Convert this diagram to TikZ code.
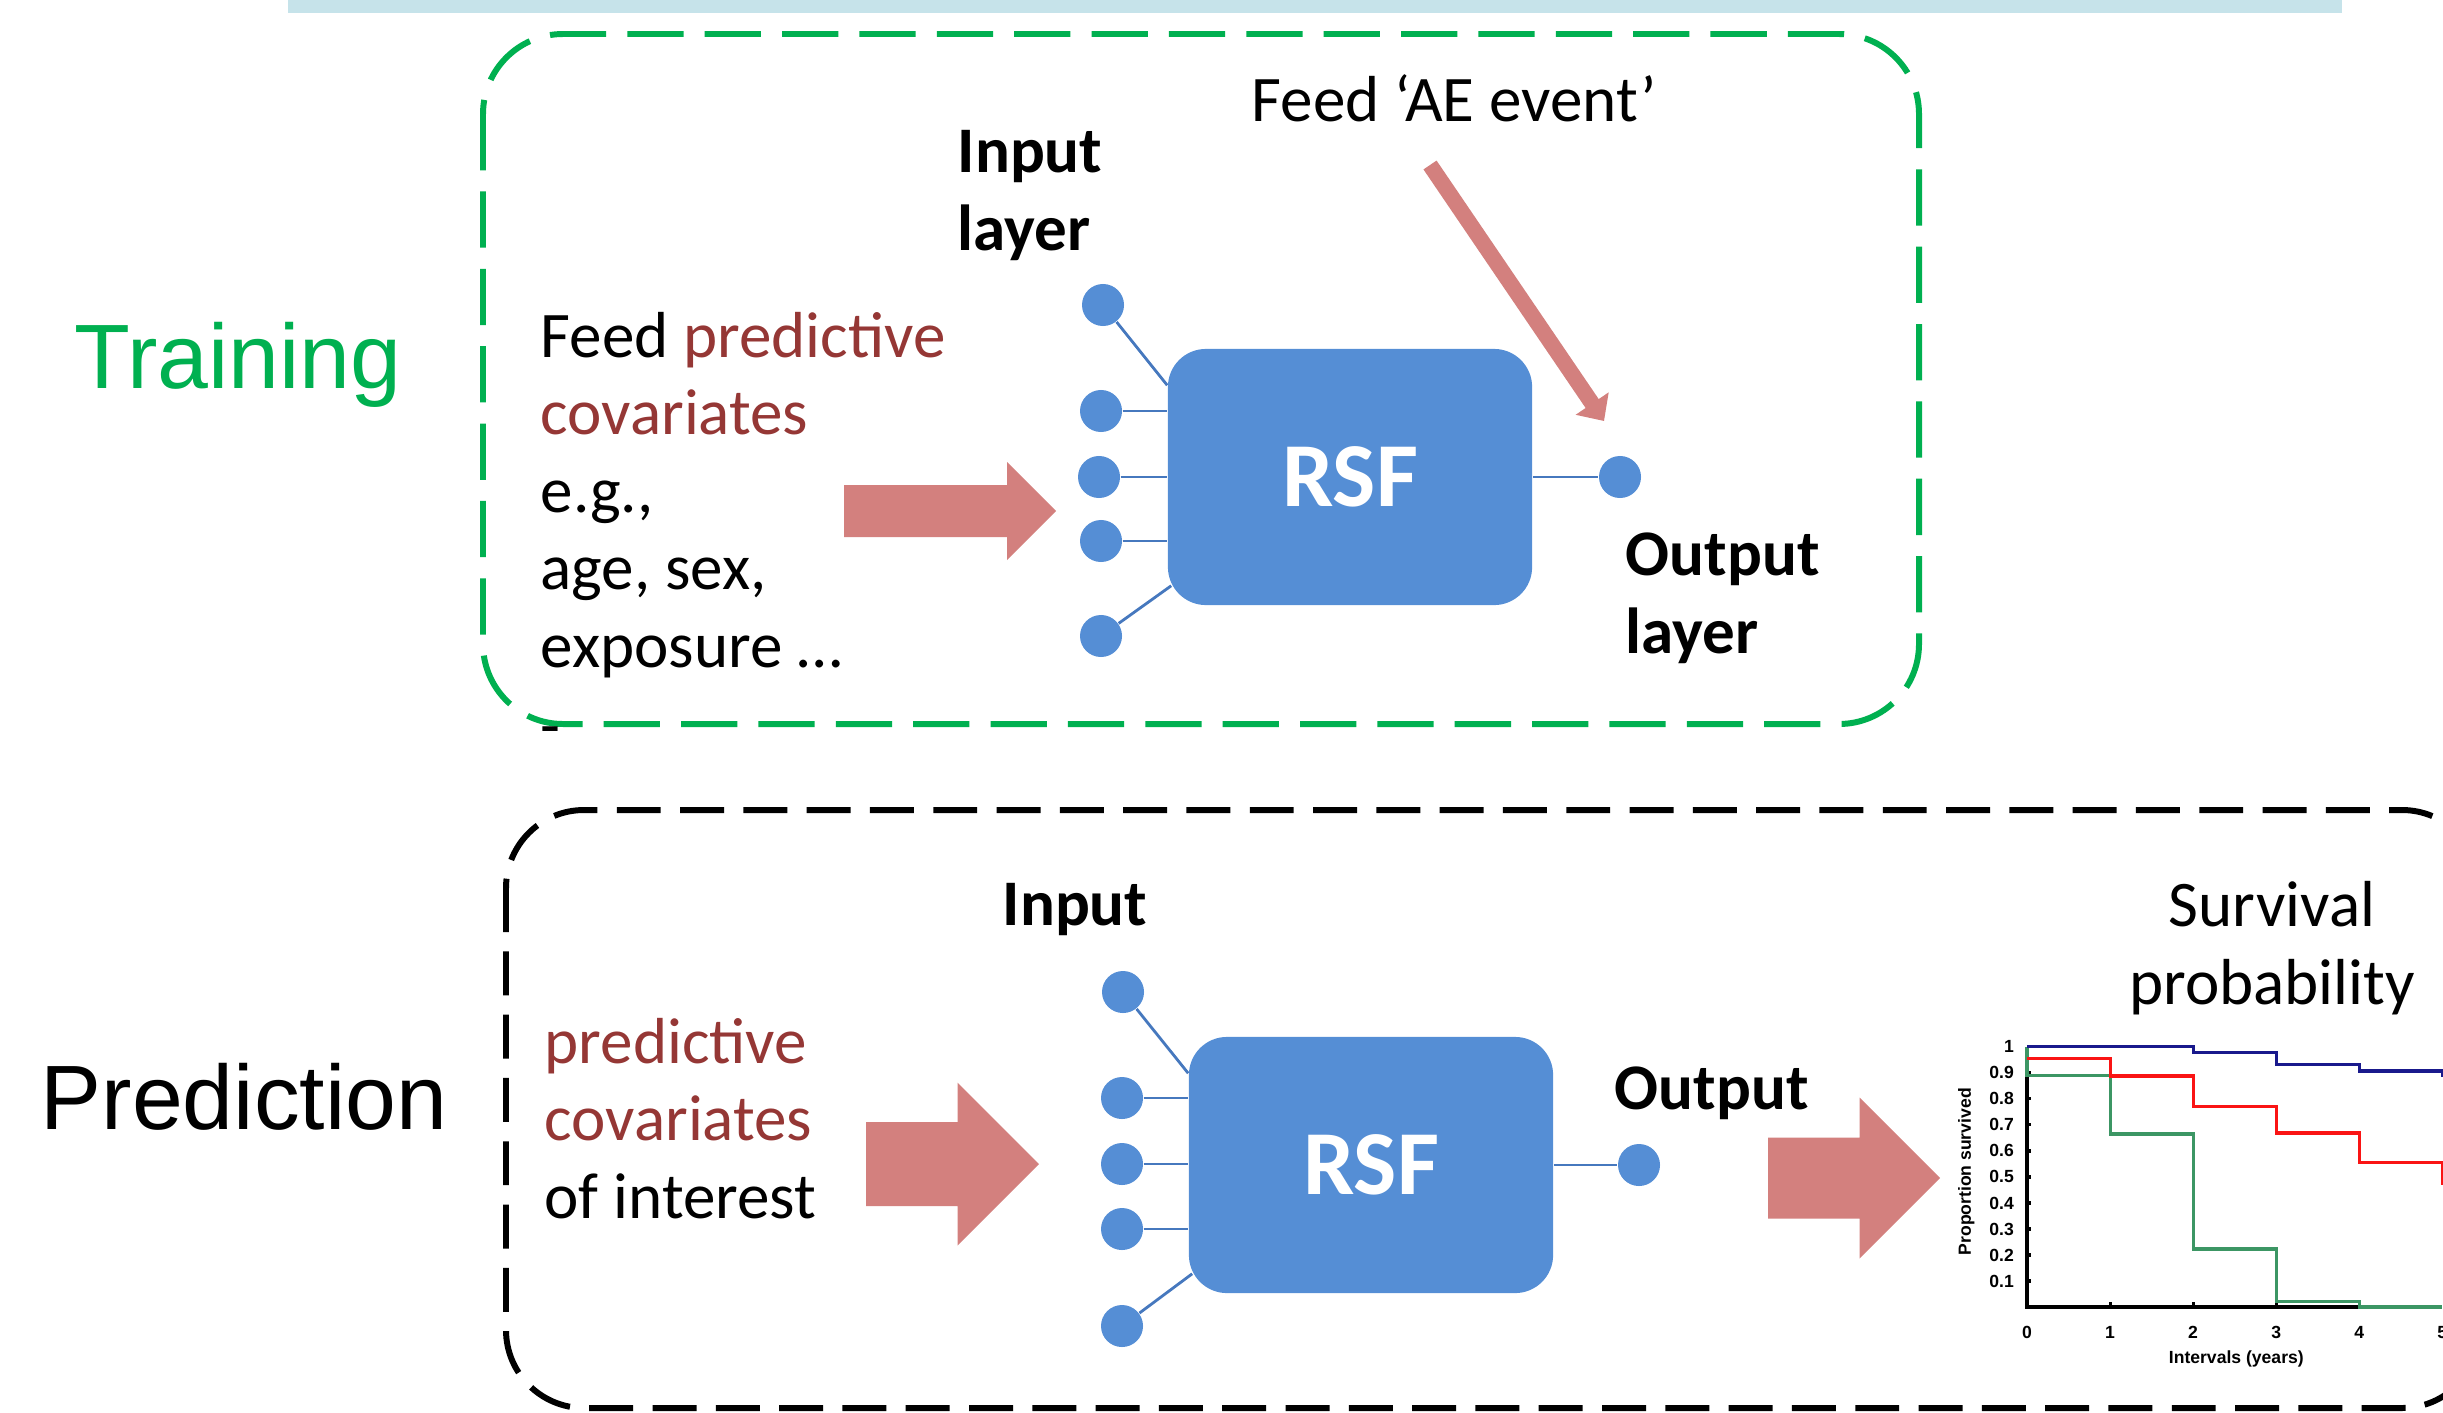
\documentclass[tikz,border=0pt]{standalone}
\usepackage{fontspec}
\setmainfont{Carlito}
\newfontfamily\arialfont{Liberation Sans}
\usetikzlibrary{positioning, arrows.meta}

\definecolor{rsfblue}{RGB}{85,142,213}
\definecolor{wireblue}{RGB}{70,120,190}
\definecolor{feedpink}{RGB}{211,128,126}
\definecolor{covred}{RGB}{149,55,53}
\definecolor{traingreen}{RGB}{0,176,80}
\definecolor{barblue}{RGB}{198,227,234}
\definecolor{kmblue}{RGB}{25,25,140}
\definecolor{kmred}{RGB}{250,20,20}
\definecolor{kmgreen}{RGB}{60,150,100}

% block arrow: tail x, tip x, centre y, shaft half height, head half height
\newcommand{\feedarrow}[5]{%
  \fill[feedpink] (#1,#3-#4) -- (#2-#5,#3-#4) -- (#2-#5,#3-#5) -- (#2,#3)
    -- (#2-#5,#3+#5) -- (#2-#5,#3+#4) -- (#1,#3+#4) -- cycle;}

\begin{document}
\begin{tikzpicture}[x=0.01cm, y=-0.01cm,
    rsf/.style={fill=rsfblue, rounded corners=0.38cm, minimum width=3.64cm,
                minimum height=2.56cm, text=white,
                font=\fontsize{26}{30}\selectfont\bfseries},
    unit/.style={circle, fill=rsfblue, inner sep=0pt, minimum size=0.42cm},
    wire/.style={draw=wireblue, line width=0.8pt},
    aefeed/.style={draw=feedpink, line width=4.5pt,
                   -{Triangle[length=6pt, width=11pt]}},
    phase/.style={font=\arialfont\fontsize{26}{30}\selectfont, anchor=base, inner sep=0pt},
    covtext/.style={font=\fontsize{18.5}{22}\selectfont, align=left,
                    anchor=base west, inner sep=0pt},
    layertag/.style={covtext, font=\fontsize{18.5}{22}\selectfont\bfseries},
    trainframe/.style={draw=traingreen, line width=1.7pt, rounded corners=0.8cm,
                       dash pattern=on 16pt off 6pt},
    predframe/.style={draw=black, line width=1.7pt, rounded corners=0.78cm,
                      dash pattern=on 12.5pt off 5.5pt},
    kmaxis/.style={line width=0.9pt},
    kmcurve/.style={line width=0.9pt},
    kmtick/.style={font=\arialfont\bfseries\fontsize{5}{6}\selectfont, inner sep=0pt}]
  \useasboundingbox (0,0) rectangle (2443,1412);
  \clip (0,0) rectangle (2443,1412);

  % frames
  \fill[barblue] (288,-10) rectangle (2342,13);
  \draw[trainframe] (483,34) rectangle (1919,724);
  \draw[predframe] (506,810) rectangle (2480,1408);
  \node[covtext] (stray) at (540,747) {-};

  \node[phase, text=traingreen] (training) at (238,388) {Training};
  \node[phase] (prediction) at (244,1129) {Prediction};

  % training (multi-line nodes sit on their last baseline)
  \node[covtext] (tcov) at (540,667)
    {Feed \textcolor{covred}{predictive}\\ \textcolor{covred}{covariates}\\ e.g.,\\ age, sex,\\ exposure …};
  \feedarrow{844}{1056}{511}{26}{49}
  \node[rsf] (trsf) at (1350,477) {RSF};
  \node[unit] (ti1) at (1103,305) {};
  \node[unit] (ti2) at (1101,411) {};
  \node[unit] (ti3) at (1099,477) {};
  \node[unit] (ti4) at (1101,541) {};
  \node[unit] (ti5) at (1101,636) {};
  \node[unit] (tout) at (1620,477) {};
  \node[layertag] (tinlab) at (957,250) {Input\\layer};
  \node[layertag] (toutlab) at (1625,653) {Output\\layer};
  \node[covtext] (aetext) at (1251,121) {Feed ‘AE event’};
  \coordinate (aesrc) at (1430,165);
  \coordinate (aetip) at (1604,421);

  \draw[wire] (ti1) -- ([yshift=-0.37cm]trsf.north west);
  \draw[wire] (ti2) -- (ti2 -| trsf.west);
  \draw[wire] (ti3) -- (ti3 -| trsf.west);
  \draw[wire] (ti4) -- (ti4 -| trsf.west);
  \draw[wire] (ti5) -- ([xshift=0.04cm, yshift=0.2cm]trsf.south west);
  \draw[wire] (trsf) -- (tout);
  \draw[aefeed] (aesrc) -- (aetip);

  % prediction
  \node[covtext] (pcov) at (544,1218)
    {\textcolor{covred}{predictive}\\ \textcolor{covred}{covariates}\\ of interest};
  \feedarrow{866}{1039}{1164}{42}{81.5}
  \node[rsf] (prsf) at (1371,1165) {RSF};
  \node[unit] (pi1) at (1123,992) {};
  \node[unit] (pi2) at (1122,1098) {};
  \node[unit] (pi3) at (1122,1164) {};
  \node[unit] (pi4) at (1122,1229) {};
  \node[unit] (pi5) at (1122,1326) {};
  \node[unit] (pout) at (1639,1165) {};
  \node[layertag] (pinlab) at (1002,925) {Input};
  \node[layertag] (poutlab) at (1614,1109) {Output};
  \feedarrow{1768}{1940}{1178}{40.5}{80.5}
  \node[covtext, align=center, anchor=base] (survlab) at (2272,1004) {Survival\\probability};

  \draw[wire] (pi1) -- ([yshift=-0.37cm]prsf.north west);
  \draw[wire] (pi2) -- (pi2 -| prsf.west);
  \draw[wire] (pi3) -- (pi3 -| prsf.west);
  \draw[wire] (pi4) -- (pi4 -| prsf.west);
  \draw[wire] (pi5) -- ([xshift=0.04cm, yshift=0.2cm]prsf.south west);
  \draw[wire] (prsf) -- (pout);

  % survival curves
  \begin{scope}[shift={(2027,1307)}, x=0.83cm, y=2.6cm]
    \draw[kmaxis] (0,1) -- (0,0) -- (5,0);
    \draw[kmaxis] (0,0.1) -- ++(0.05,0) (0,0.2) -- ++(0.05,0) (0,0.3) -- ++(0.05,0)
      (0,0.4) -- ++(0.05,0) (0,0.5) -- ++(0.05,0) (0,0.6) -- ++(0.05,0)
      (0,0.7) -- ++(0.05,0) (0,0.8) -- ++(0.05,0) (0,0.9) -- ++(0.05,0)
      (1,0) -- ++(0,0.02) (2,0) -- ++(0,0.02) (3,0) -- ++(0,0.02) (4,0) -- ++(0,0.02);
    \draw[kmcurve, kmgreen] (0,1) -- (0,0.89) -- (1,0.89) -- (1,0.665) -- (2,0.665)
      -- (2,0.223) -- (3,0.223) -- (3,0.02) -- (4,0.02) -- (4,0) -- (5,0);
    \draw[kmcurve, kmred] (0,0.954) -- (1,0.954) -- (1,0.888) -- (2,0.888) -- (2,0.771)
      -- (3,0.771) -- (3,0.669) -- (4,0.669) -- (4,0.554) -- (5,0.554) -- (5,0.47);
    \draw[kmcurve, kmblue] (0,1) -- (2,1) -- (2,0.977) -- (3,0.977) -- (3,0.932)
      -- (4,0.932) -- (4,0.907) -- (5,0.907) -- (5,0.885);
    \node[kmtick, anchor=east] (y10) at (-0.15,1) {1};
    \node[kmtick, anchor=east] (y09) at (-0.15,0.9) {0.9};
    \node[kmtick, anchor=east] (y08) at (-0.15,0.8) {0.8};
    \node[kmtick, anchor=east] (y07) at (-0.15,0.7) {0.7};
    \node[kmtick, anchor=east] (y06) at (-0.15,0.6) {0.6};
    \node[kmtick, anchor=east] (y05) at (-0.15,0.5) {0.5};
    \node[kmtick, anchor=east] (y04) at (-0.15,0.4) {0.4};
    \node[kmtick, anchor=east] (y03) at (-0.15,0.3) {0.3};
    \node[kmtick, anchor=east] (y02) at (-0.15,0.2) {0.2};
    \node[kmtick, anchor=east] (y01) at (-0.15,0.1) {0.1};
    \node[kmtick, anchor=north] (x0) at (0,-0.07) {0};
    \node[kmtick, anchor=north] (x1) at (1,-0.07) {1};
    \node[kmtick, anchor=north] (x2) at (2,-0.07) {2};
    \node[kmtick, anchor=north] (x3) at (3,-0.07) {3};
    \node[kmtick, anchor=north] (x4) at (4,-0.07) {4};
    \node[kmtick, anchor=north] (x5) at (5,-0.07) {5};
    \node[kmtick, rotate=90] (ytitle) at (-0.73,0.52) {Proportion survived};
    \node[kmtick] (xtitle) at (2.52,-0.2) {Intervals (years)};
  \end{scope}
\end{tikzpicture}
\end{document}
